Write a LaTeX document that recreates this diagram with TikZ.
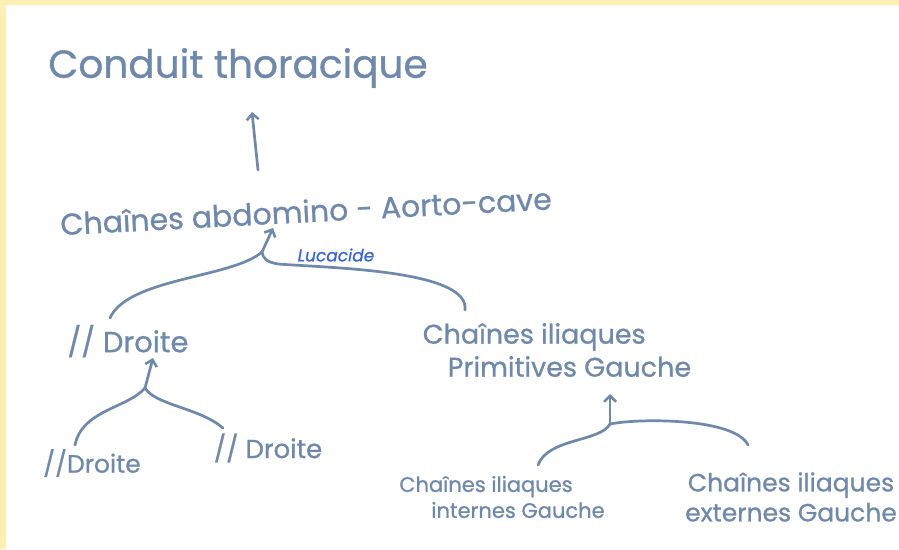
\documentclass[tikz,border=0pt]{standalone}
\usepackage{fontspec}
\setmainfont{Poppins}[FakeBold=0.8]
\usetikzlibrary{arrows.meta}
\definecolor{ink}{HTML}{7088A9}
\definecolor{paper}{HTML}{FFEFB3}
\definecolor{sig}{HTML}{3B66CC}
\begin{document}
\begin{tikzpicture}[x=1pt,y=-1pt,
  txt/.style={text=ink,inner sep=0pt,align=center},
  link/.style={draw=ink,line width=2.7pt,line cap=round,line join=round},
  arr/.style={link,-{Straight Barb[length=6pt,width=12pt,line width=2.5pt]}}]
% background
\fill[paper] (0,0) rectangle (899,549);
\fill[white] (6,5) rectangle (899,549);
\useasboundingbox (0,0) rectangle (899,549);
% nodes
\node[txt,font=\fontsize{39}{44}\selectfont] (ct) at (238,68) {Conduit thoracique};
\node[txt,font=\fontsize{30}{34}\selectfont,rotate=3] (ab) at (306,211) {Chaînes abdomino - Aorto-cave};
\node[font=\itshape\fontsize{17}{19}\selectfont,text=sig,inner sep=0pt] (lu) at (336,255) {Lucacide};
\node[txt,font=\fontsize{29}{32}\selectfont] (d1) at (128,341) {// Droite};
\node[txt,font=\fontsize{25}{28}\selectfont] (d2) at (92,463) {//Droite};
\node[txt,font=\fontsize{26}{30}\selectfont] (d3) at (268,448) {// Droite};
\node[txt,align=left,font=\fontsize{27}{33}\selectfont] (ip) at (557,350) {Chaînes iliaques\\\hspace*{25pt}Primitives Gauche};
\node[txt,align=left,font=\fontsize{21}{26}\selectfont] (ii) at (502,497) {Chaînes iliaques\\\hspace*{32pt}internes Gauche};
\node[txt,font=\fontsize{25}{30}\selectfont] (ie) at (791,497) {Chaînes iliaques\\externes Gauche};
% junction points and tips
\coordinate (t1) at (252,112);
\coordinate (s1) at (258,170);
\coordinate (j1) at (262,252);
\coordinate (t2) at (273,228);
\coordinate (j2) at (145,388);
\coordinate (t3) at (153,358);
\coordinate (j3) at (610,424);
\coordinate (t4) at (610,394);
\coordinate (e2) at (223,428);
% connectors
\draw[arr] (s1) -- (t1);
\draw[arr] (j1) -- (t2);
\draw[link] (110,318) .. controls (128,278) and (232,278) .. (j1);
\draw[link] (465,310) .. controls (470,270) and (330,268) .. (278,264) .. controls (266,262) and (263,258) .. (j1);
\draw[arr] (j2) -- (t3);
\draw[link] (75,445) .. controls (82,410) and (128,408) .. (j2);
\draw[link] (e2) .. controls (200,408) and (155,405) .. (j2);
\draw[arr] (j3) -- (t4);
\draw[link] (538,465) .. controls (548,438) and (600,442) .. (j3);
\draw[link] (748,445) .. controls (735,418) and (640,418) .. (j3);
\end{tikzpicture}
\end{document}
